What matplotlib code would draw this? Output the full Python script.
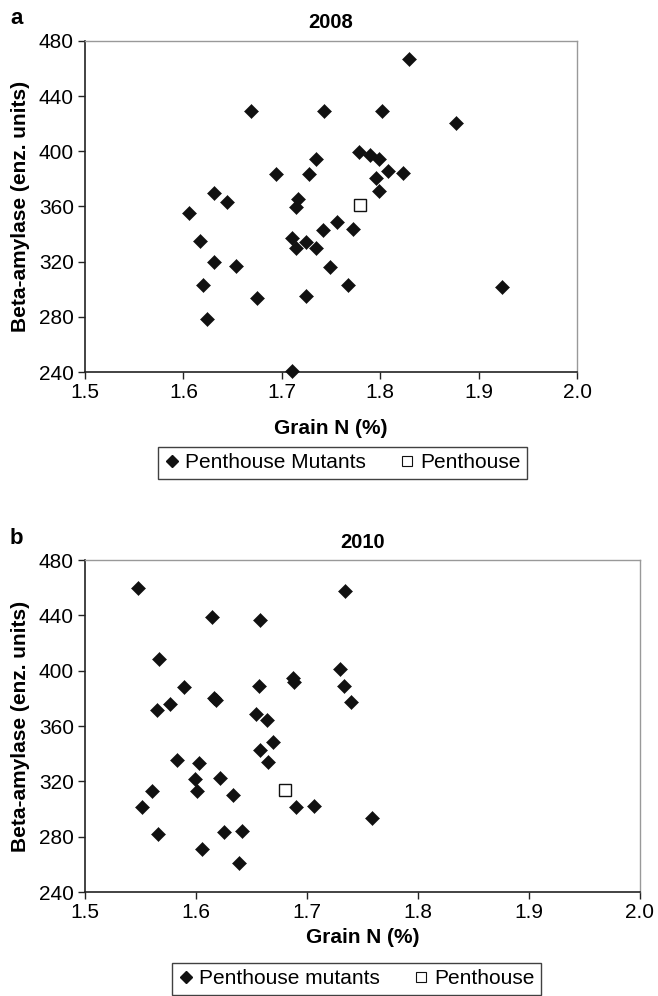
import matplotlib
matplotlib.use('Agg')
import matplotlib.pyplot as plt
from matplotlib.lines import Line2D

plt.rcParams['font.family'] = ['Liberation Sans', 'DejaVu Sans']

# 2008 - mutantes (Grain N %, beta-amylase)
n2008 = [1.829, 1.669, 1.743, 1.802, 1.877, 1.778, 1.790, 1.799, 1.735, 1.694,
         1.728, 1.808, 1.823, 1.796, 1.799, 1.631, 1.644, 1.716, 1.714, 1.606,
         1.756, 1.742, 1.772, 1.617, 1.710, 1.714, 1.725, 1.735, 1.631, 1.653,
         1.749, 1.620, 1.767, 1.675, 1.725, 1.624, 1.710, 1.924]
beta2008 = [466.7, 429.5, 429.5, 429.5, 420.8, 399.5, 397.6, 394.2, 394.2, 383.5,
            383.5, 385.5, 384.3, 380.9, 371.2, 369.8, 363.3, 365.2, 359.8, 355.5,
            348.5, 342.9, 343.9, 335.2, 337.4, 329.7, 334.0, 329.7, 320.0, 317.0,
            315.9, 303.1, 303.1, 293.4, 295.3, 278.2, 240.7, 301.8]
pent2008 = (1.779, 361.3)

# 2010 - mutantes
n2010 = [1.548, 1.734, 1.614, 1.658, 1.567, 1.730, 1.687, 1.688, 1.589, 1.657,
         1.733, 1.616, 1.618, 1.577, 1.565, 1.740, 1.654, 1.664, 1.669, 1.658,
         1.665, 1.583, 1.603, 1.599, 1.622, 1.601, 1.560, 1.633, 1.551, 1.690,
         1.706, 1.759, 1.566, 1.625, 1.641, 1.605, 1.639]
beta2010 = [459.8, 457.8, 438.6, 436.4, 408.7, 401.3, 395.0, 392.1, 388.5, 389.2,
            389.2, 380.5, 378.5, 375.8, 371.5, 377.0, 368.6, 364.4, 348.6, 342.3,
            333.9, 335.1, 333.2, 321.7, 322.1, 312.7, 312.7, 310.3, 301.2, 301.2,
            302.2, 293.5, 281.7, 283.1, 283.8, 271.1, 261.2]
pent2010 = (1.680, 313.4)

xticks = [1.5, 1.6, 1.7, 1.8, 1.9, 2.0]
yticks = [240, 280, 320, 360, 400, 440, 480]

W, H = 658, 996
fig = plt.figure(figsize=(W / 100, H / 100), dpi=100)


def panel(rect, xs, ys, pent, titulo, letra, etiqueta, leg_xy, xpad):
    l, t, r, b = rect
    ax = fig.add_axes([l / W, 1 - b / H, (r - l) / W, (b - t) / H])
    ax.plot(xs, ys, linestyle='none', marker='D', ms=7.6, color='#111111',
            mec='#111111', mew=0.4, clip_on=False, zorder=3)
    ax.plot([pent[0]], [pent[1]], linestyle='none', marker='s', ms=9,
            mfc='white', mec='#111111', mew=1.0, clip_on=False, zorder=3)
    ax.set_xlim(1.5, 2.0)
    ax.set_ylim(240, 480)
    ax.set_xticks(xticks)
    ax.set_yticks(yticks)
    ax.set_xticklabels(['%.1f' % v for v in xticks])
    ax.tick_params(direction='out', length=5, width=1, color='#222222',
                   labelsize=15, pad=3)
    for s in ['left', 'bottom']:
        ax.spines[s].set_color('#222222')
        ax.spines[s].set_linewidth(1.2)
    for s in ['top', 'right']:
        ax.spines[s].set_color('#999999')
        ax.spines[s].set_linewidth(1.0)
    ax.set_title(titulo, fontsize=14.5, fontweight='bold', pad=9)
    ax.set_xlabel('Grain N (%)', fontsize=15, fontweight='bold', labelpad=xpad)
    ax.set_ylabel('Beta-amylase (enz. units)', fontsize=15, fontweight='bold',
                  labelpad=6)
    fig.text(10 / W, 1 - (t - 22) / H, letra, fontsize=16, fontweight='bold',
             ha='left', va='center')

    handles = [Line2D([], [], linestyle='none', marker='D', ms=6,
                      color='#111111'),
               Line2D([], [], linestyle='none', marker='s', ms=7,
                      mfc='white', mec='#111111', mew=0.8)]
    leg = fig.legend(handles, etiqueta, loc='upper center',
                     bbox_to_anchor=(leg_xy[0] / W, 1 - leg_xy[1] / H),
                     ncol=2, fontsize=15, frameon=True, fancybox=False,
                     handlelength=0.7, handletextpad=0.3, columnspacing=1.6,
                     borderpad=0.3, borderaxespad=0)
    leg.get_frame().set_edgecolor('#111111')
    leg.get_frame().set_linewidth(1.0)
    return ax


panel((85, 41, 577, 372), n2008, beta2008, pent2008, '2008', 'a',
      ['Penthouse Mutants', 'Penthouse'], (342.5, 447), 12)
panel((85, 560, 640, 892), n2010, beta2010, pent2010, '2010', 'b',
      ['Penthouse mutants', 'Penthouse'], (356.5, 963), 4)

fig.savefig('out.png', dpi=100)
